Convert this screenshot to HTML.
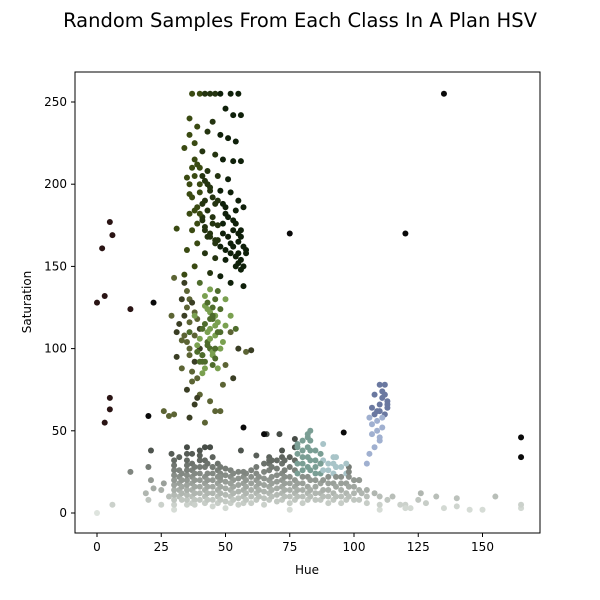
<!DOCTYPE html>
<html><head><meta charset="utf-8"><style>
html,body{margin:0;padding:0;background:#fff;width:600px;height:600px;overflow:hidden}
svg text{font-family:"DejaVu Sans","Liberation Sans",sans-serif}
</style></head><body>
<svg id="chart" width="600" height="600">
<text x="300" y="27" text-anchor="middle" font-size="19.5">Random Samples From Each Class In A Plan HSV</text>
<g id="marks"></g>
<rect x="75" y="72" width="465" height="461" fill="none" stroke="#000" stroke-width="1"/>
<g id="axes"></g>
<text x="307" y="574" text-anchor="middle" font-size="12">Hue</text>
<text x="31" y="302" text-anchor="middle" font-size="12" transform="rotate(-90 31 302)">Saturation</text>
</svg>
<script>
const xTicks=[0,25,50,75,100,125,150];
const yTicks=[0,50,100,150,200,250];
// dark green upper cluster
const darkH=[37,40,42,44,46,48,52,55,50,53,56,36,45,39,43,48,51,54,38,41,46,34,49,53,56,37,43,47,51,35,40,44,48,52,55,36,42,46,50,54,38,57,41,45,49,53,56,37,31,43,47,51,55,39,58,35,42,46,50,54,38,56,44,48,34,52,57,
 36,38,39,40,41,42,43,44,45,47,49,50,51,53,54,55,56,57,36,37,39,40,41,42,44,46,48,50,52,54,55,57,58,38,40,41,43,45,47,49,52,53,55,56,36,39,42,44,46];
const darkS=[255,255,255,255,255,255,255,255,246,242,242,240,238,235,232,230,228,226,225,220,218,222,215,214,214,210,208,205,203,204,200,198,196,195,190,194,190,188,186,184,184,186,180,176,176,172,172,172,173,168,166,168,165,164,160,160,158,155,154,150,150,148,146,144,145,140,138,
 230,215,212,210,205,202,200,196,192,190,188,182,180,178,176,170,168,162,200,192,186,182,178,174,170,166,162,160,158,156,152,150,158,205,195,188,184,180,175,170,164,162,158,154,182,176,172,168,164];
// mid green
const midH=[40,44,46,42,48,38,44,50,41,46,43,48,39,45,42,47,36,52,54,50,45,40,44,49,42,46,47,43,45,41,
 43,44,45,46,47,44,43,45,46,42,41,47,48,44,45,43,46,42,40,39];
const midS=[140,136,130,126,124,120,118,114,112,108,104,100,98,96,92,88,110,120,112,130,125,106,100,104,115,120,135,110,90,85,
 128,122,118,114,110,106,102,98,94,132,96,116,110,112,120,124,100,88,92,102];
// olive
const oliveH=[33,35,30,32,34,36,31,33,37,35,40,44,38,48,30,36,42,52,55,58,50,53,49,46,60,26,28,39,41,33,
 34,35,36,37,38,39,40,35,36,38,37,39,34,36,38,40,41,29,31];
const oliveS=[130,125,143,115,108,100,95,88,80,75,72,68,66,62,60,58,55,110,100,98,90,82,78,62,99,62,59,70,92,105,
 140,135,130,128,122,118,112,104,96,92,86,82,120,116,108,100,96,120,110];
// blue-violet
const blueH=[110,112,108,111,113,107,110,112,106,109,111,107,110,108,106,105,113,109,111,112,110,108,107,109,113,111,110];
const blueS=[78,78,72,70,66,64,62,60,58,56,52,48,44,40,36,30,68,62,74,72,66,60,54,50,64,58,46];
// outliers
const outH=[135,75,120,165,165,2,5,6,3,0,13,22,5,5,3,20,65,96,57];
const outS=[255,170,170,46,34,161,177,169,132,128,124,128,70,63,55,59,48,49,52];
// low band columns
const colH=[30,35,40,45,50,55,60,65,70,75,80,85,90,95,100,105,110,32,33,37,38,42,43,47,48,52,53,57,58,62,63,67,68,72,73,77,78,82,83,87,88,92,93,97,98,102];
const colS=[[2,5,8,11,14,17,20,23,26,29,32],[5,8,11,14,17,20,23,26,29,32,36,40],[8,12,16,20,24,28,32,38],[4,8,12,16,20,24,28,34],[3,7,11,15,19,23,27],[5,9,13,17,21,25],[6,10,14,18,22,26],[5,9,13,17,21,25,30],[7,11,15,19,23,27,32],[2,6,10,14,18,22,28,34],[6,10,14,18,22,26,30,34,38,44],[8,12,16,20,24,28,32,38],[6,10,14,18,22,26,30],[6,10,14,18,22,28],[8,12,16,20],[6,10,14],[2,5,10],
 [10,14,18,22,26,34],[8,12,16,20,24],[6,10,14,18,22,26,30,36],[8,12,16,20,24,28],[6,10,14,18,22,28,32],[8,12,16,20,24,30],[6,10,14,18,22,26,30],[8,12,16,20,24,28],[6,10,14,18,22,26],[8,12,16,20,24],[6,10,14,18,22],[8,12,16,20,24],[8,12,16,20,24,28],[10,14,18,22],[8,12,16,20,26,30,34],[10,14,18,22,28,32],[8,12,16,20,24,30,34],[10,14,18,22,26,32],[8,12,16,20,26,32,40],[10,14,18,24,30,36,42],[8,12,16,22,28,34,40,46],[10,14,20,26,32,38,44],[8,12,18,24,30,36],[10,14,20,26,32],[8,12,18,24,30],[10,16,22,28,34],[8,12,18,24],[10,16,22,28],[8,14,20],[6,12,18]];
// scattered low points
const lowH=[20,22,25,28,20,21,25,13,40,42,45,48,52,57,62,67,72,78,82,87,92,97,102,108,115,120,125,126,132,140,140,155,165,165,6,0,120,38,44,56,66,71,77,83,88,93,98,103,113,118,122,128,135,145,150,19,21,26,29];
const lowS=[8,15,5,10,28,38,14,25,35,40,28,22,18,25,35,32,38,40,48,30,34,30,20,12,10,5,8,12,10,9,4,10,3,5,5,0,3,5,40,38,48,48,45,50,42,28,25,12,8,5,3,6,3,2,2,12,20,18,36];
const X=h=>97+h*2.57, Y=s=>513-s*1.644;
const NS='http://www.w3.org/2000/svg';
const marks=document.getElementById('marks');
function dot(h,s,c,name){const e=document.createElementNS(NS,'circle');e.setAttribute('cx',X(h));e.setAttribute('cy',Y(s));e.setAttribute('r',3);e.setAttribute('fill',c);


marks.appendChild(e);}
function lowColor(h,s){
 if(h>=78&&h<=97&&s>=24) return h>=88?'#a8c4c8':'#7a9e94';
 const g=Math.max(70,Math.round(222-s*3.8));
 return 'rgb('+g+','+(g+6)+','+(g)+')';}
for(let c=0;c<colH.length;c++)for(const s of colS[c])dot(colH[c],s,lowColor(colH[c],s),'low-sat-point');
for(let i=0;i<lowH.length;i++)dot(lowH[i],lowS[i],lowColor(lowH[i],lowS[i]),'low-sat-point');
for(let i=0;i<oliveH.length;i++)dot(oliveH[i],oliveS[i],i%3==0?'#3a3e24':'#5c6434','olive-point');
for(let i=0;i<midH.length;i++)dot(midH[i],midS[i],i%2?'#7aa050':'#4e6c2c','mid-green-point');
for(let i=0;i<darkH.length;i++)dot(darkH[i],darkS[i],darkH[i]>=48?'#0f200a':(darkH[i]<41?'#3a4a12':'#243410'),'dark-green-point');
for(let i=0;i<blueH.length;i++)dot(blueH[i],blueS[i],blueS[i]>58?'#6a78a0':'#a0b0d0','blue-point');
for(let i=0;i<outH.length;i++)dot(outH[i],outS[i],outH[i]<15?'#2a1414':'#0a0a0a','outlier-point');
const ax=document.getElementById('axes');
function el(t,a,txt){const e=document.createElementNS(NS,t);for(const k in a)e.setAttribute(k,a[k]);if(txt!==undefined)e.textContent=txt;ax.appendChild(e);return e;}
for(const t of xTicks){
 const l=el('line',{x1:X(t),x2:X(t),y1:533,y2:537,stroke:'#000'});
 
 
 const tx=el('text',{x:X(t),y:551,'text-anchor':'middle','font-size':12},String(t));
 
 
}
for(const t of yTicks){
 const l=el('line',{x1:71,x2:75,y1:Y(t),y2:Y(t),stroke:'#000'});
 
 
 const tx=el('text',{x:67,y:Y(t)+4,'text-anchor':'end','font-size':12},String(t));
 
 
}
</script>
</body></html>
